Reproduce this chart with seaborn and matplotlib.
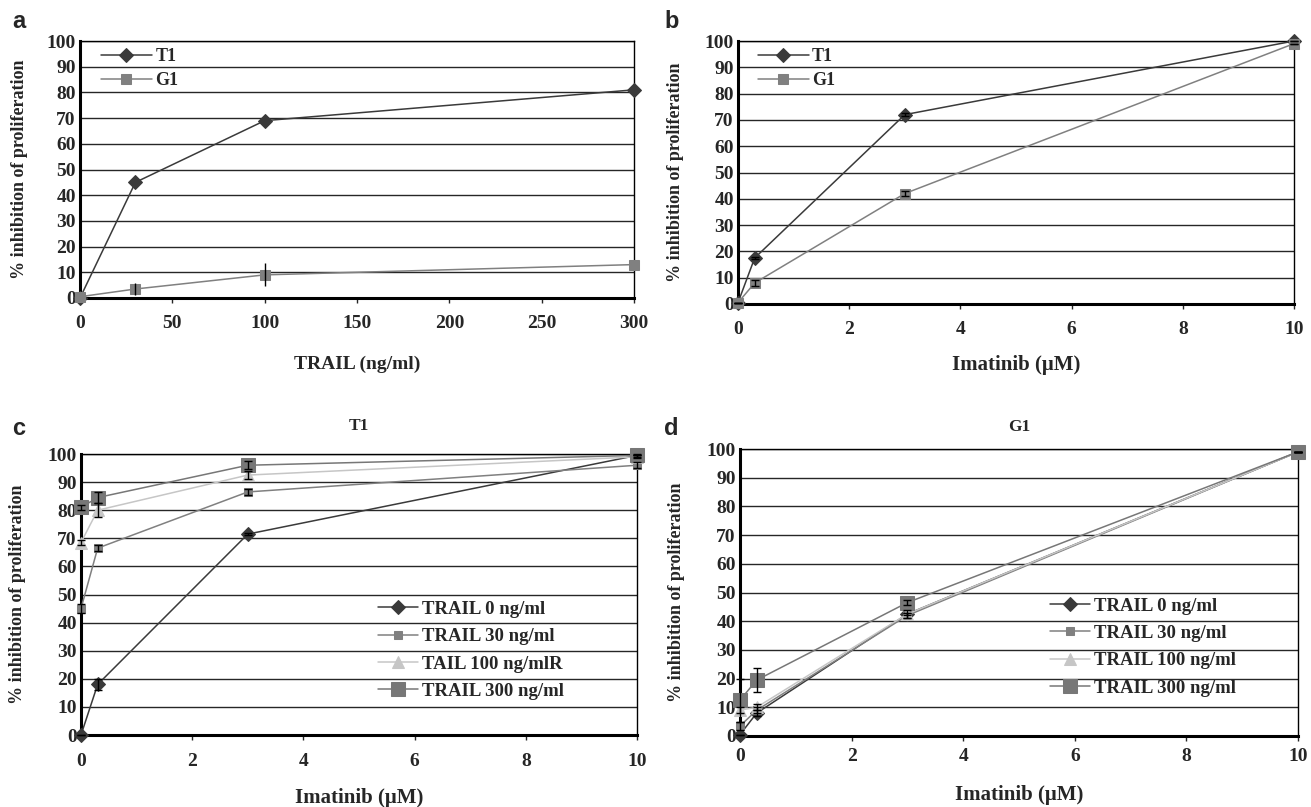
"""
Inhibition of proliferation: TRAIL and imatinib dose responses (panels a-d).
"""

import matplotlib
matplotlib.use("Agg")
import matplotlib.pyplot as plt
import seaborn as sns

# 1. DATA
trail_doses = [0, 30, 100, 300]
a_t1 = [0, 45, 69, 81]
a_g1 = [0.5, 3.5, 9, 13]
a_g1_err = [0, 2.5, 4.5, 0]

imatinib_doses = [0, 0.3, 3, 10]
b_t1 = [0.5, 17.5, 72, 100]
b_g1 = [0.5, 8, 42, 99]
b_t1_err = [0, 0.5, 0.5, 0]
b_g1_err = [0, 1, 1, 0]

combo_labels_c = ["TRAIL 0 ng/ml", "TRAIL 30 ng/ml", "TAIL 100 ng/mlR", "TRAIL 300 ng/ml"]
combo_labels_d = ["TRAIL 0 ng/ml", "TRAIL 30 ng/ml", "TRAIL 100 ng/ml", "TRAIL 300 ng/ml"]

c_trail0 = [0, 18, 71.5, 99.5]
c_trail30 = [45, 66.5, 86.5, 96]
c_trail100 = [68.5, 80, 92.5, 99]
c_trail300 = [81, 84.5, 96, 99.5]
c_err0 = [0, 2, 0.5, 0]
c_err30 = [1.5, 1, 1, 1]
c_err100 = [1, 2.5, 1.5, 0.5]
c_err300 = [1, 2, 1.5, 0.5]

d_trail0 = [0.5, 8, 42.5, 99]
d_trail30 = [3.5, 9, 42, 99]
d_trail100 = [9, 10, 42.5, 99]
d_trail300 = [12.5, 19.5, 46.5, 99]
d_err0 = [0, 1, 0.5, 0]
d_err30 = [1.5, 1, 1, 0]
d_err100 = [1, 1, 1.5, 0]
d_err300 = [7.5, 4.2, 1, 0]

y_ticks = list(range(0, 101, 10))

# 2. STYLE
sns.set_style("white")
plt.rcParams["font.family"] = ["Liberation Serif", "DejaVu Serif"]
plt.rcParams["font.weight"] = "bold"

dark = "#3a3a3a"
mid = "#808080"
light = "#c6c6c6"
big = "#777777"

W, H = 1311, 807
fig = plt.figure(figsize=(W / 100, H / 100), dpi=100)


def px_axes(left, top, right, bottom):
    return fig.add_axes([left / W, 1 - bottom / H, (right - left) / W, (bottom - top) / H])


def style_axes(ax, xmax, xticks, xlabel, xlab_y, xlab_size, ylab_x, xpad=9):
    ax.set_xlim(0, xmax)
    ax.set_ylim(0, 100)
    ax.set_yticks(y_ticks)
    ax.set_xticks(xticks)
    ax.grid(False)
    for y in y_ticks[1:]:
        ax.axhline(y, color="#262626", lw=1, zorder=0)
    for side in ["left", "bottom"]:
        ax.spines[side].set_linewidth(2.2)
        ax.spines[side].set_color("black")
    for side in ["top", "right"]:
        ax.spines[side].set_linewidth(1)
        ax.spines[side].set_color("black")
    ax.tick_params(axis="x", direction="out", length=3.6, width=1, labelsize=14,
                   pad=xpad, bottom=True)
    ax.tick_params(axis="y", direction="out", length=0, labelsize=14, pad=3, left=True)
    for lab in ax.get_xticklabels() + ax.get_yticklabels():
        lab.set_fontweight("bold")
    ax.set_xlabel(xlabel, fontsize=xlab_size, fontweight="bold")
    ax.xaxis.set_label_coords(0.5, xlab_y)
    ax.xaxis.label.set_va("center")
    ax.set_ylabel("% inhibition of proliferation", fontsize=13, fontweight="bold")
    ax.yaxis.set_label_coords(ylab_x, 0.5)
    ax.yaxis.label.set_va("center")


def draw_series(ax, x, y, err, label, color, marker, ms, capsize=3):
    sns.lineplot(x=x, y=y, ax=ax, color=color, lw=1.1, marker=marker, markersize=ms,
                 markeredgecolor=color, label=label, clip_on=False, zorder=3)
    if any(e > 0 for e in err):
        ax.errorbar(x, y, yerr=err, fmt="none", ecolor="black", elinewidth=1,
                    capsize=capsize, zorder=4, clip_on=False)


def add_legend(ax, x, y, size, length, spacing):
    ax.legend(loc="upper left", bbox_to_anchor=(x, y), borderaxespad=0, frameon=False,
              fontsize=size, handlelength=length, labelspacing=spacing, handletextpad=0.2)


# 3. PANEL a
ax_a = px_axes(80, 41, 634, 298)
draw_series(ax_a, trail_doses, a_t1, [0] * 4, "T1", dark, "D", 7)
draw_series(ax_a, trail_doses, a_g1, a_g1_err, "G1", mid, "s", 6.5, capsize=0)
style_axes(ax_a, 300, range(0, 301, 50), "TRAIL (ng/ml)", -0.26, 14, -0.11)
add_legend(ax_a, 0.025, 1.0, 13, 2.8, 0.4)

# 4. PANEL b
ax_b = px_axes(738, 41, 1294, 304)
draw_series(ax_b, imatinib_doses, b_t1, b_t1_err, "T1", dark, "D", 7)
draw_series(ax_b, imatinib_doses, b_g1, b_g1_err, "G1", mid, "s", 6.5)
style_axes(ax_b, 10, range(0, 11, 2), "Imatinib (\u03bcM)", -0.232, 15, -0.113)
add_legend(ax_b, 0.023, 1.0, 13, 2.8, 0.4)

# 5. PANEL c
ax_c = px_axes(81, 454, 637, 735)
draw_series(ax_c, imatinib_doses, c_trail0, c_err0, combo_labels_c[0], dark, "D", 7)
draw_series(ax_c, imatinib_doses, c_trail30, c_err30, combo_labels_c[1], mid, "s", 6)
draw_series(ax_c, imatinib_doses, c_trail100, c_err100, combo_labels_c[2], light, "^", 8.5)
draw_series(ax_c, imatinib_doses, c_trail300, c_err300, combo_labels_c[3], big, "s", 10.5)
style_axes(ax_c, 10, range(0, 11, 2), "Imatinib (\u03bcM)", -0.224, 15, -0.115)
ax_c.set_title("T1", fontsize=12.5, fontweight="bold", pad=17)
add_legend(ax_c, 0.521, 0.505, 13.5, 2.15, 0.55)

# 6. PANEL d
ax_d = px_axes(740, 449, 1298, 736)
draw_series(ax_d, imatinib_doses, d_trail0, d_err0, combo_labels_d[0], dark, "D", 7)
draw_series(ax_d, imatinib_doses, d_trail30, d_err30, combo_labels_d[1], mid, "s", 6)
draw_series(ax_d, imatinib_doses, d_trail100, d_err100, combo_labels_d[2], light, "^", 8.5)
draw_series(ax_d, imatinib_doses, d_trail300, d_err300, combo_labels_d[3], big, "s", 10.5)
style_axes(ax_d, 10, range(0, 11, 2), "Imatinib (\u03bcM)", -0.206, 15, -0.113, xpad=5)
ax_d.set_title("G1", fontsize=12.5, fontweight="bold", pad=13)
add_legend(ax_d, 0.542, 0.509, 13.5, 2.15, 0.55)

# 7. PANEL LETTERS
for letter, (x, y) in zip("abcd", [(12, 28), (664, 28), (12, 435), (664, 435)]):
    fig.text(x / W, 1 - y / H, letter, fontsize=17, fontweight="bold",
             family=["Liberation Sans", "DejaVu Sans"], ha="left", va="baseline")

fig.savefig("out.png", dpi=100)
print("Saved out.png")
